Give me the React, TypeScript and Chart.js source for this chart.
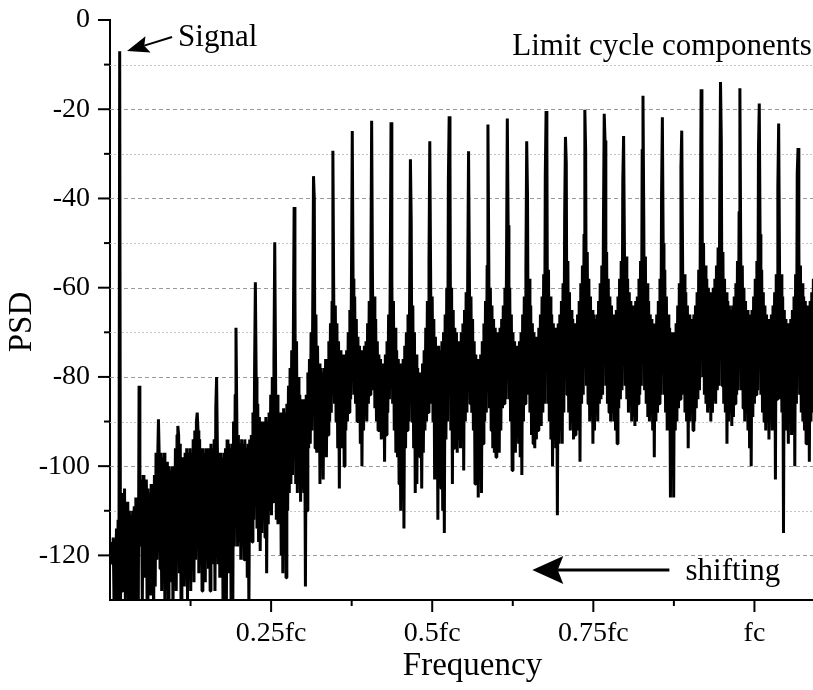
import React, { useEffect, useRef } from "react";
import { Chart, registerables } from "chart.js";

Chart.register(...registerables);

// Spectral bin width, in units of fc
const BIN_WIDTH_FC = 0.0012531;

// PSD (dB) per frequency bin (0 .. ~0.34 fc)
const psdLowBand: number[] = [
  -117, -120, -118, -122, -116, -131, -117, -126, -114, -133, -112, -135, -7, -132, -109, -128, -106, -124,
  -105, -130, -108, -121, -108, -134, -110, -125, -111, -136, -110, -122, -109, -131, -107, -126, -108, -134,
  -82, -112, -118, -103, -131, -102, -125, -104, -120, -103, -134, -105, -124, -106, -129, -104, -122, -106, -135, -102, -127, -97, -121, -99,
  -89.5, -98, -123, -97, -128, -98, -120, -97, -133, -99, -124, -99, -130, -100, -121, -101, -126, -100, -134, -100, -122, -96, -128, -93,
  -91, -93, -124, -95, -133, -98, -121, -98, -127, -97, -125, -96, -131, -97, -122, -96, -128, -97, -120, -94, -126, -92, -121, -90,
  -88, -92, -124, -94, -119, -96, -128, -96, -121, -97, -126, -96, -118, -97, -123, -96, -128, -95, -120, -96, -122, -94, -128, -87,
  -80, -96, -122, -97, -125, -97, -121, -98, -134, -97, -131, -96, -136, -94, -124, -95, -121, -96, -133, -95, -135, -90, -118, -84,
  -69, -88, -118, -93, -117, -95, -121, -94, -116, -95, -121, -94, -119, -96, -125, -95, -133, -94, -115, -93, -117, -88, -112, -79,
  -58.8, -80, -114, -86, -117, -89, -119, -90, -115, -90, -112, -90, -116, -89, -124, -90, -113, -88, -110, -84, -111, -80, -108, -76,
  -49.8, -77, -112, -84, -113, -88, -110, -88, -120, -88, -124, -87, -116, -88, -125, -86, -110, -82, -106, -78, -104, -74, -102, -72,
  -41.9, -60, -104, -72, -106, -80, -104, -84, -108, -85, -105, -85, -106, -86, -127, -84, -110, -79, -96, -76, -95, -70, -92, -66,
  -35, -40, -96, -66, -97, -73, -95, -77, -104, -78, -99, -79, -103, -78, -96, -76, -98, -76, -93, -72, -90, -68, -88, -63,
];

// PSD (dB) per frequency bin (~0.35 .. ~0.70 fc)
const psdMidBand: number[] = [
  -29.3, -60, -86, -64, -90, -68, -96, -72, -105, -74, -92, -75, -96, -75, -100, -75, -92, -74, -90, -70, -88, -65, -85, -58,
  -24.9, -58, -84, -62, -86, -67, -90, -71, -88, -73, -95, -74, -100, -74, -92, -73, -88, -72, -90, -68, -86, -63, -84, -57,
  -22.6, -57, -83, -62, -87, -67, -90, -72, -92, -75, -90, -76, -94, -77, -92, -77, -99, -75, -93, -72, -88, -66, -85, -58,
  -22.9, -58, -86, -63, -92, -69, -97, -74, -98, -76, -104, -77, -110, -77, -100, -76, -114, -73, -96, -70, -92, -66, -90, -62,
  -31.2, -45, -90, -64, -96, -70, -106, -75, -104, -78, -96, -79, -98, -79, -105, -77, -97, -74, -92, -69, -90, -63, -88, -54,
  -27.2, -56, -86, -62, -90, -67, -103, -71, -98, -73, -112, -73, -100, -74, -105, -72, -110, -70, -115, -66, -94, -60, -90, -36,
  -21.6, -31, -92, -60, -104, -65, -96, -69, -95, -70, -97, -72, -94, -72, -96, -70, -93, -68, -101, -65, -90, -61, -88, -56,
  -29.4, -56, -86, -62, -88, -67, -92, -72, -104, -75, -96, -76, -107, -76, -103, -75, -106, -72, -95, -68, -90, -63, -88, -55,
  -23.4, -52, -87, -60, -92, -64, -96, -67, -97, -69, -98, -70, -96, -70, -97, -69, -92, -67, -87, -64, -86, -60, -85, -54,
  -22.1, -46, -85, -60, -90, -66, -101, -70, -94, -72, -97, -73, -93, -73, -95, -72, -98, -70, -102, -66, -90, -62, -86, -56,
  -27.2, -39, -84, -58, -88, -64, -93, -68, -95, -70, -96, -71, -94, -71, -92, -69, -90, -66, -91, -62, -88, -57, -86, -35,
  -20.4, -27, -86, -56, -90, -62, -94, -66, -100, -68, -92, -69, -96, -69, -111, -68, -95, -66, -92, -63, -95, -59, -88, -44,
];

// PSD (dB) per frequency bin (~0.71 .. 1.09 fc)
const psdHighBand: number[] = [
  -26.2, -32, -84, -54, -88, -61, -92, -65, -90, -67, -94, -68, -93, -68, -90, -66, -92, -63, -99, -59, -86, -55, -84, -48,
  -20.1, -29, -82, -52, -86, -58, -90, -62, -88, -65, -95, -66, -92, -67, -88, -66, -90, -63, -86, -59, -85, -55, -84, -46,
  -21, -27, -82, -52, -86, -58, -88, -62, -90, -64, -88, -66, -90, -66, -92, -65, -95, -62, -87, -58, -85, -54, -83, -36,
  -26, -50, -82, -53, -85, -58, -88, -61, -86, -63, -90, -64, -89, -64, -91, -63, -90, -62, -86, -58, -84, -54, -82, -29,
  -17, -45, -83, -53, -86, -59, -89, -63, -90, -66, -88, -67, -92, -68, -98, -68, -90, -66, -88, -63, -86, -58, -84, -39,
  -21.8, -50, -84, -56, -88, -62, -92, -66, -90, -69, -107, -70, -95, -70, -107, -70, -92, -68, -90, -64, -87, -59, -85, -33,
  -24.8, -52, -84, -57, -88, -61, -90, -64, -96, -66, -90, -67, -88, -67, -92, -66, -90, -64, -87, -61, -85, -56, -83, -48,
  -15.5, -27, -80, -50, -84, -55, -86, -58, -88, -60, -87, -61, -90, -61, -88, -60, -85, -58, -86, -55, -83, -51, -82, -42,
  -13.9, -27, -82, -52, -86, -58, -88, -61, -95, -63, -90, -64, -88, -65, -91, -64, -89, -62, -86, -59, -84, -54, -83, -43,
  -15.3, -50, -83, -55, -87, -60, -90, -63, -88, -65, -92, -66, -96, -66, -100, -65, -89, -62, -86, -58, -84, -54, -83, -29,
  -18.7, -48, -84, -56, -88, -61, -90, -64, -92, -66, -90, -67, -94, -67, -89, -66, -92, -64, -88, -61, -103, -57, -85, -37.5,
  -23.2, -52, -85, -57, -88, -62, -115, -65, -90, -67, -92, -68, -95, -68, -90, -67, -93, -65, -88, -62, -100, -57, -86, -34.4,
  -28.7, -50, -84, -55, -88, -59, -90, -62, -92, -63, -95, -64, -92, -64, -99, -63, -90, -61, -88, -58, -86, -55, -85, -52,
];

const xTickValues = [0.25, 0.5, 0.75, 1];
const xTickLabels = ["0.25fc", "0.5fc", "0.75fc", "fc"];
const xMinorTicks = [0.125, 0.375, 0.625, 0.875];
const yTickValues = [0, -20, -40, -60, -80, -100, -120];
const yMinorTicks = [-10, -30, -50, -70, -90, -110];
const yMajorGrid = [-20, -40, -60, -80, -100, -120];
const yMinorGrid = [-10, -30, -50, -70, -90, -110];

// Annotation anchors (data units: fc, dB)
const signalLabel = { text: "Signal", f: 0.1056, v: -5.85 };
const signalArrow = { f1: 0.0963, v1: -3.8, f2: 0.0264, v2: -6.95 };
const limitLabel = { text: "Limit cycle components", f: 0.6242, v: -7.85 };
const shiftLabel = { text: "shifting", f: 0.893, v: -125.6 };
const shiftArrow = { f1: 0.868, v1: -123.3, f2: 0.6553, v2: -123.3 };
const yTitle = { text: "PSD", v: -67.7 };

const FONT = '"Liberation Serif", "Times New Roman", serif';

function drawArrow(
  ctx: CanvasRenderingContext2D,
  x1: number, y1: number, x2: number, y2: number,
  headLen: number, headHalf: number, lw: number
) {
  const ang = Math.atan2(y2 - y1, x2 - x1);
  const c = Math.cos(ang);
  const s = Math.sin(ang);
  const bx = x2 - c * headLen;
  const by = y2 - s * headLen;
  const nx = x2 - c * headLen * 0.82;
  const ny = y2 - s * headLen * 0.82;
  ctx.lineWidth = lw;
  ctx.beginPath();
  ctx.moveTo(x1, y1);
  ctx.lineTo(nx, ny);
  ctx.stroke();
  ctx.beginPath();
  ctx.moveTo(x2, y2);
  ctx.lineTo(bx - s * headHalf, by + c * headHalf);
  ctx.lineTo(nx, ny);
  ctx.lineTo(bx + s * headHalf, by - c * headHalf);
  ctx.closePath();
  ctx.fill();
}

const decorPlugin = {
  id: "decor",
  beforeDatasetsDraw(chart: any) {
    const { ctx, chartArea, scales } = chart;
    const y = scales.y;
    ctx.save();
    ctx.lineWidth = 1;
    ctx.strokeStyle = "#c4c4c4";
    ctx.setLineDash([2, 2]);
    for (const v of yMinorGrid) {
      const py = Math.round(y.getPixelForValue(v)) + 0.5;
      ctx.beginPath();
      ctx.moveTo(chartArea.left, py);
      ctx.lineTo(chartArea.right, py);
      ctx.stroke();
    }
    ctx.strokeStyle = "#9a9a9a";
    ctx.setLineDash([4, 3]);
    for (const v of yMajorGrid) {
      const py = Math.round(y.getPixelForValue(v)) + 0.5;
      ctx.beginPath();
      ctx.moveTo(chartArea.left, py);
      ctx.lineTo(chartArea.right, py);
      ctx.stroke();
    }
    ctx.restore();
  },
  afterDraw(chart: any) {
    const { ctx, chartArea, scales } = chart;
    const x = scales.x;
    const y = scales.y;
    ctx.save();
    ctx.strokeStyle = "#000";
    ctx.fillStyle = "#000";
    ctx.lineWidth = 2;
    ctx.setLineDash([]);
    const tick = (px1: number, py1: number, px2: number, py2: number) => {
      ctx.beginPath();
      ctx.moveTo(px1, py1);
      ctx.lineTo(px2, py2);
      ctx.stroke();
    };
    for (const v of yTickValues) {
      const py = y.getPixelForValue(v);
      tick(chartArea.left - 12, py, chartArea.left, py);
    }
    for (const v of yMinorTicks) {
      const py = y.getPixelForValue(v);
      tick(chartArea.left - 6, py, chartArea.left, py);
    }
    for (const v of xTickValues) {
      const px = x.getPixelForValue(v);
      tick(px, chartArea.bottom, px, chartArea.bottom + 12);
    }
    for (const v of xMinorTicks) {
      const px = x.getPixelForValue(v);
      tick(px, chartArea.bottom, px, chartArea.bottom + 6);
    }

    // y-axis title
    ctx.save();
    ctx.font = `33px ${FONT}`;
    ctx.textAlign = "center";
    ctx.textBaseline = "middle";
    ctx.translate(22, y.getPixelForValue(yTitle.v));
    ctx.rotate(-Math.PI / 2);
    ctx.fillText(yTitle.text, 0, 0);
    ctx.restore();

    // annotations
    ctx.font = `31px ${FONT}`;
    ctx.textBaseline = "alphabetic";
    ctx.textAlign = "left";
    ctx.fillText(signalLabel.text, x.getPixelForValue(signalLabel.f), y.getPixelForValue(signalLabel.v));
    ctx.fillText(limitLabel.text, x.getPixelForValue(limitLabel.f), y.getPixelForValue(limitLabel.v));
    ctx.fillText(shiftLabel.text, x.getPixelForValue(shiftLabel.f), y.getPixelForValue(shiftLabel.v));

    drawArrow(
      ctx,
      x.getPixelForValue(signalArrow.f1), y.getPixelForValue(signalArrow.v1),
      x.getPixelForValue(signalArrow.f2), y.getPixelForValue(signalArrow.v2),
      22, 8.5, 2
    );
    drawArrow(
      ctx,
      x.getPixelForValue(shiftArrow.f1), y.getPixelForValue(shiftArrow.v1),
      x.getPixelForValue(shiftArrow.f2), y.getPixelForValue(shiftArrow.v2),
      31, 14, 3
    );
    ctx.restore();
  },
};

export default function App() {
  const ref = useRef<HTMLCanvasElement>(null);

  useEffect(() => {
    const canvas = ref.current;
    if (!canvas) return;
    Chart.defaults.font.family = FONT;
    Chart.defaults.color = "#000";
    const psd = [...psdLowBand, ...psdMidBand, ...psdHighBand];
    const points = psd.map((v, i) => ({ x: i * BIN_WIDTH_FC, y: v }));

    const chart = new Chart(canvas, {
      type: "line",
      data: {
        datasets: [
          {
            data: points,
            borderColor: "#000",
            borderWidth: 3,
            pointRadius: 0,
            borderJoinStyle: "bevel",
            borderCapStyle: "butt",
            tension: 0,
            fill: false,
          },
        ],
      },
      options: {
        responsive: false,
        animation: false,
        devicePixelRatio: 1,
        events: [],
        layout: { padding: { top: 20, right: 0, left: 0, bottom: 0 } },
        plugins: { legend: { display: false }, tooltip: { enabled: false } },
        scales: {
          x: {
            type: "linear",
            min: 0,
            max: 1.125,
            position: "bottom",
            afterFit: (s: any) => {
              s.height = 90;
              s.paddingLeft = 0;
              s.paddingRight = 0;
            },
            afterBuildTicks: (s: any) => {
              s.ticks = xTickValues.map((v) => ({ value: v }));
            },
            ticks: {
              autoSkip: false,
              maxRotation: 0,
              padding: 17,
              color: "#000",
              font: { size: 28, family: FONT },
              callback: (_v: any, i: number) => xTickLabels[i],
            },
            grid: { display: false, drawTicks: false },
            border: { display: true, color: "#000", width: 2 },
            title: {
              display: true,
              text: "Frequency",
              color: "#000",
              font: { size: 33, family: FONT },
              padding: { top: 0, bottom: 4 },
            },
          },
          y: {
            type: "linear",
            min: -130,
            max: 0,
            afterFit: (s: any) => {
              s.width = 110;
              s.paddingTop = 0;
              s.paddingBottom = 0;
            },
            afterBuildTicks: (s: any) => {
              s.ticks = yTickValues.map((v) => ({ value: v }));
            },
            ticks: {
              autoSkip: false,
              padding: 20,
              color: "#000",
              font: { size: 28, family: FONT },
              callback: (v: any) => String(v),
            },
            grid: { display: false, drawTicks: false },
            border: { display: true, color: "#000", width: 2 },
            title: { display: false },
          },
        },
      },
      plugins: [decorPlugin],
    } as any);

    return () => chart.destroy();
  }, []);

  return (
    <div
      style={{
        position: "fixed",
        left: 0,
        top: 0,
        width: 813,
        height: 690,
        overflow: "hidden",
        background: "#fff",
      }}
    >
      <canvas ref={ref} width={835} height={690} style={{ display: "block", width: 835, height: 690 }} />
    </div>
  );
}
